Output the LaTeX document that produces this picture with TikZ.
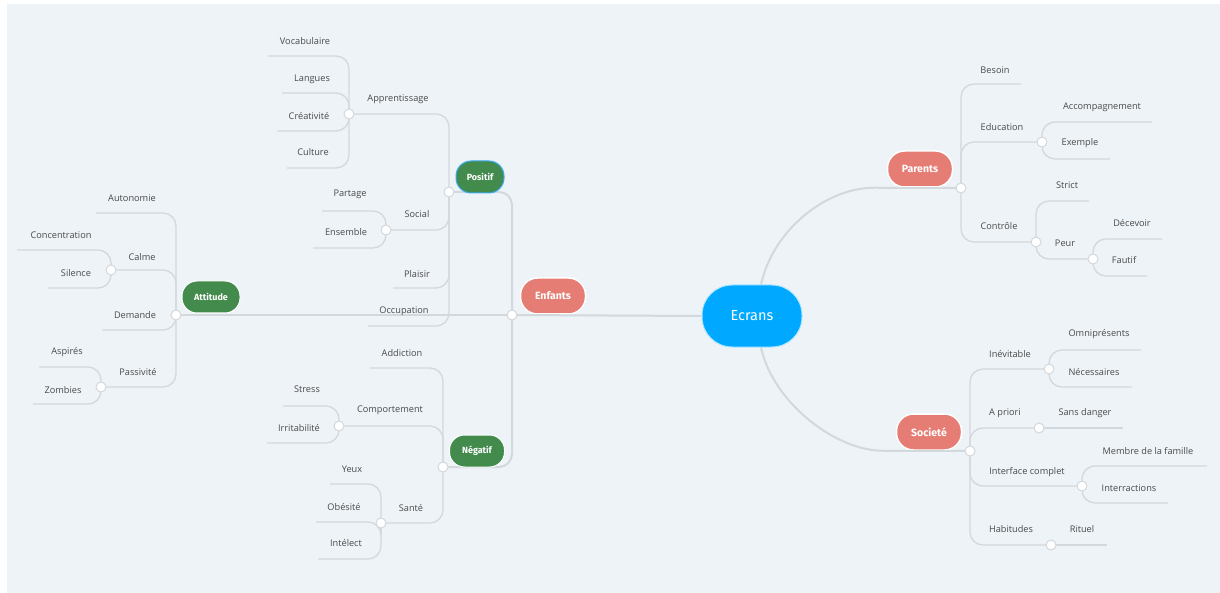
\documentclass[tikz,border=0pt]{standalone}
\usepackage{fontspec}
\setmainfont{Open Sans}
\newfontfamily\pillfont{Fira Sans}

\definecolor{bg}{HTML}{EEF3F7}
\definecolor{wire}{HTML}{D3D8DC}
\definecolor{ink}{HTML}{4A4A4A}
\definecolor{sky}{HTML}{00A9FF}
\definecolor{salmon}{HTML}{E67D74}
\definecolor{moss}{HTML}{428B4D}
\definecolor{pick}{HTML}{3DAAF2}

\tikzset{
  link/.style={draw=wire, line width=1.3pt, rounded corners=13pt},
  trunk/.style={draw=wire, line width=2pt, rounded corners=13pt},
  knob/.style={circle, draw=wire, fill=white, line width=1pt, inner sep=0pt, minimum size=10pt},
  lbl/.style={font=\fontsize{9.2}{11}\selectfont, text=ink, inner sep=1pt},
  root/.style={fill=sky, draw=white!70!sky, line width=1pt, rounded corners=30pt,
    minimum width=100pt, minimum height=62pt, text=white,
    font=\pillfont\fontsize{14.5}{16}\selectfont},
  topic/.style={fill=salmon, draw=white, line width=1.5pt, rounded corners=17pt,
    minimum width=65pt, minimum height=36pt, text=white,
    font=\pillfont\bfseries\fontsize{10.5}{12}\selectfont},
  sub/.style={fill=moss, draw=white, line width=1pt, rounded corners=15pt,
    minimum width=55pt, minimum height=32pt, text=white,
    font=\pillfont\bfseries\fontsize{9}{10}\selectfont}
}

\begin{document}
\begin{tikzpicture}[x=1pt, y=-1pt]
  \useasboundingbox (0,0) rectangle (1220,593);
  \fill[bg] (7,4) rectangle (1220,593);

  \node[root] (ecrans) at (752,316) {Ecrans};
  \node[topic] (enfants) at (553,296) {Enfants};
  \node[topic] (parents) at (920,169) {Parents};
  \node[topic] (societe) at (929,432) {Societé};

  \coordinate (enf-c) at (512,315);
  \coordinate (pos-c) at (449,192);
  \coordinate (neg-c) at (443,467);
  \coordinate (att-c) at (176,315);
  \coordinate (par-c) at (961,188);
  \coordinate (soc-c) at (970,451);

  \draw[trunk] (ecrans.west) -- (enf-c);
  \draw[trunk] ([xshift=9pt]ecrans.north) .. controls +(12,-55) and +(-60,0) .. (parents.south west) -- (par-c);
  \draw[trunk] ([xshift=9pt]ecrans.south) .. controls +(12,55) and +(-60,0) .. (societe.south west) -- (soc-c);
  \draw[trunk] (enf-c) |- (pos-c);
  \draw[trunk] (enf-c) |- (neg-c);
  \draw[trunk] (enf-c) -- (att-c);

  \node[sub, draw=pick, minimum width=48pt] (positif) at (480,177) {Positif};
  \node[sub] (negatif) at (477,451) {Négatif};
  \node[sub, minimum width=58pt] (attitude) at (211,297) {Attitude};

  \coordinate (app-c) at (349,114);
  \coordinate (soci-c) at (386,230);
  \coordinate (pla-e) at (393,288);
  \coordinate (occ-e) at (368,326);
  \draw[link] (pos-c) |- (app-c);
  \draw[link] (pos-c) |- (soci-c);
  \draw[link] (pos-c) |- (pla-e);
  \draw[link] (pos-c) |- (occ-e);
  \coordinate (voc-e) at (268,56);
  \coordinate (lan-e) at (282,93);
  \coordinate (cre-e) at (277,131);
  \coordinate (cul-e) at (287,168);
  \draw[link] (app-c) |- (voc-e);
  \draw[link] (app-c) |- (lan-e);
  \draw[link] (app-c) |- (cre-e);
  \draw[link] (app-c) |- (cul-e);
  \coordinate (par-e) at (322,211);
  \coordinate (ens-e) at (313,248);
  \draw[link] (soci-c) |- (par-e);
  \draw[link] (soci-c) |- (ens-e);

  \coordinate (aut-e) at (96,213);
  \coordinate (cal-c) at (111,270);
  \coordinate (dem-e) at (102,330);
  \coordinate (pas-c) at (101,387);
  \draw[link] (att-c) |- (aut-e);
  \draw[link] (att-c) |- (cal-c);
  \draw[link] (att-c) |- (dem-e);
  \draw[link] (att-c) |- (pas-c);
  \coordinate (con-e) at (17,250);
  \coordinate (sil-e) at (48,288);
  \coordinate (asp-e) at (39,367);
  \coordinate (zom-e) at (33,404);
  \draw[link] (cal-c) |- (con-e);
  \draw[link] (cal-c) |- (sil-e);
  \draw[link] (pas-c) |- (asp-e);
  \draw[link] (pas-c) |- (zom-e);

  \coordinate (add-e) at (370,368);
  \coordinate (com-c) at (339,426);
  \coordinate (san-c) at (381,523);
  \draw[link] (neg-c) |- (add-e);
  \draw[link] (neg-c) |- (com-c);
  \draw[link] (neg-c) |- (san-c);
  \coordinate (str-e) at (283,406);
  \coordinate (irr-e) at (267,443);
  \draw[link] (com-c) |- (str-e);
  \draw[link] (com-c) |- (irr-e);
  \coordinate (yeu-e) at (330,484);
  \coordinate (obe-e) at (316,522);
  \coordinate (int-e) at (318,559);
  \draw[link] (san-c) |- (yeu-e);
  \draw[link] (san-c) |- (obe-e);
  \draw[link] (san-c) |- (int-e);

  \coordinate (bes-e) at (1021,84);
  \coordinate (edu-c) at (1042,142);
  \coordinate (ctl-c) at (1036,242);
  \draw[link] (par-c) |- (bes-e);
  \draw[link] (par-c) |- (edu-c);
  \draw[link] (par-c) |- (ctl-c);
  \coordinate (acc-e) at (1152,122);
  \coordinate (exe-e) at (1110,159);
  \draw[link] (edu-c) |- (acc-e);
  \draw[link] (edu-c) |- (exe-e);
  \coordinate (stc-e) at (1089,201);
  \coordinate (peu-c) at (1093,259);
  \draw[link] (ctl-c) |- (stc-e);
  \draw[link] (ctl-c) |- (peu-c);
  \coordinate (dec-e) at (1162,239);
  \coordinate (fau-e) at (1147,276);
  \draw[link] (peu-c) |- (dec-e);
  \draw[link] (peu-c) |- (fau-e);

  \coordinate (ine-c) at (1049,369);
  \coordinate (apr-c) at (1039,428);
  \coordinate (ifc-c) at (1082,486);
  \coordinate (hab-c) at (1051,545);
  \draw[link] (soc-c) |- (ine-c);
  \draw[link] (soc-c) |- (apr-c);
  \draw[link] (soc-c) |- (ifc-c);
  \draw[link] (soc-c) |- (hab-c);
  \coordinate (omn-e) at (1141,350);
  \coordinate (nec-e) at (1132,387);
  \draw[link] (ine-c) |- (omn-e);
  \draw[link] (ine-c) |- (nec-e);
  \coordinate (sdg-e) at (1123,428);
  \draw[link] (apr-c) -- (sdg-e);
  \coordinate (mem-e) at (1207,466);
  \coordinate (itr-e) at (1168,503);
  \draw[link] (ifc-c) |- (mem-e);
  \draw[link] (ifc-c) |- (itr-e);
  \coordinate (rit-e) at (1107,545);
  \draw[link] (hab-c) -- (rit-e);

  \foreach \k in {enf-c, pos-c, neg-c, att-c, par-c, soc-c, app-c, soci-c, cal-c, pas-c,
    com-c, san-c, edu-c, ctl-c, peu-c, ine-c, apr-c, ifc-c, hab-c}
    \node[knob] at (\k) {};

  \node[lbl] (voc) at (305,41) {Vocabulaire};
  \node[lbl] (lan) at (312,79) {Langues};
  \node[lbl] (cre) at (309,116) {Créativité};
  \node[lbl] (cul) at (313,152) {Culture};
  \node[lbl] (app) at (398,99) {Apprentissage};
  \node[lbl] (par) at (350,194) {Partage};
  \node[lbl] (ens) at (346,232) {Ensemble};
  \node[lbl] (soci) at (417,214) {Social};
  \node[lbl] (pla) at (417,274) {Plaisir};
  \node[lbl] (occ) at (404,311) {Occupation};

  \node[lbl] (aut) at (132,198) {Autonomie};
  \node[lbl] (con) at (61,235) {Concentration};
  \node[lbl] (cal) at (142,257) {Calme};
  \node[lbl] (sil) at (76,273) {Silence};
  \node[lbl] (dem) at (135,315) {Demande};
  \node[lbl] (asp) at (67,352) {Aspirés};
  \node[lbl] (pas) at (138,372) {Passivité};
  \node[lbl] (zom) at (63,390) {Zombies};

  \node[lbl] (add) at (402,353) {Addiction};
  \node[lbl] (str) at (307,389) {Stress};
  \node[lbl] (com) at (390,410) {Comportement};
  \node[lbl] (irr) at (299,428) {Irritabilité};
  \node[lbl] (yeu) at (352,469) {Yeux};
  \node[lbl] (obe) at (344,507) {Obésité};
  \node[lbl] (san) at (411,508) {Santé};
  \node[lbl] (int) at (346,543) {Intélect};

  \node[lbl] (bes) at (995,70) {Besoin};
  \node[lbl] (edu) at (1002,127) {Education};
  \node[lbl] (acc) at (1102,107) {Accompagnement};
  \node[lbl] (exe) at (1080,143) {Exemple};
  \node[lbl] (stc) at (1067,185) {Strict};
  \node[lbl] (ctl) at (999,226) {Contrôle};
  \node[lbl] (peu) at (1065,243) {Peur};
  \node[lbl] (dec) at (1132,223) {Décevoir};
  \node[lbl] (fau) at (1124,260) {Fautif};

  \node[lbl] (omn) at (1099,334) {Omniprésents};
  \node[lbl] (ine) at (1010,354) {Inévitable};
  \node[lbl] (nec) at (1094,372) {Nécessaires};
  \node[lbl] (apr) at (1005,413) {A priori};
  \node[lbl] (sdg) at (1085,413) {Sans danger};
  \node[lbl] (mem) at (1148,451) {Membre de la famille};
  \node[lbl] (ifc) at (1027,472) {Interface complet};
  \node[lbl] (itr) at (1129,488) {Interractions};
  \node[lbl] (hab) at (1011,529) {Habitudes};
  \node[lbl] (rit) at (1082,529) {Rituel};
\end{tikzpicture}
\end{document}
